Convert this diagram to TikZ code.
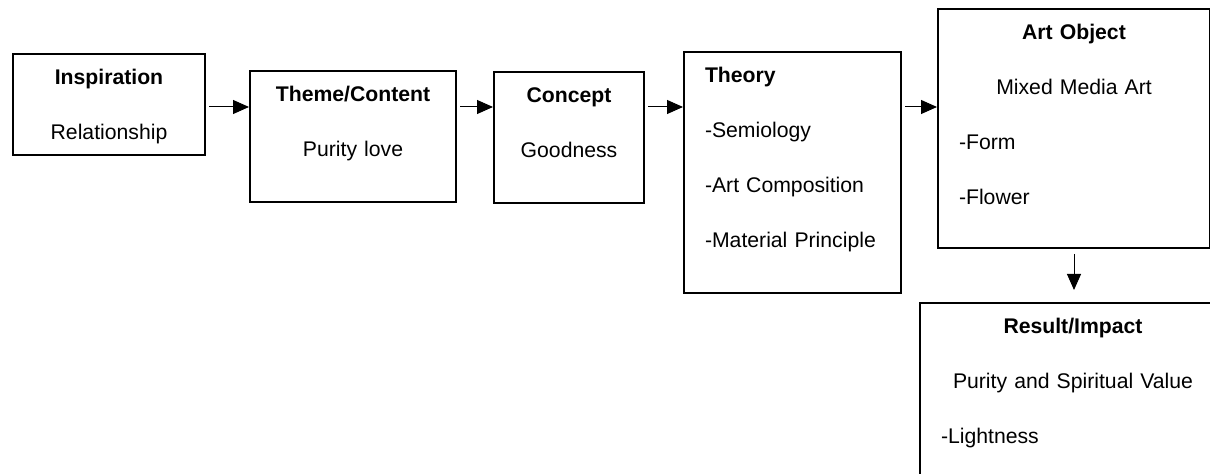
\documentclass[tikz,border=0pt]{standalone}
\usepackage{fontspec}
\setmainfont{Liberation Sans}
\usepackage{tikz}
\usetikzlibrary{positioning, calc, arrows.meta}
\tikzstyle{Arrow} = [
    line width = 0.5pt,
    -{Triangle[length=8pt, width=7pt]},
    shorten <= 1.5pt
]
\newcommand{\midline}[1]{\makebox[\hsize]{#1}}

\begin{document}
\begin{tikzpicture}[
x = 0.5pt, y = 0.5pt,
box/.style={
    draw,
    line width = 1pt,
    anchor = north west,
    inner xsep = 10.5pt,
    inner ysep = 0pt,
    text height = 15.25pt,
    font = \fontsize{10.6pt}{27.5pt}\selectfont
    }
]

\clip (0,0) rectangle (1210,-474);

\node [box, align=center, text width=75pt, text depth=35.25pt] (insp) at (12,-53) {
    \textbf{Inspiration}\\
    Relationship
};
\node [box, align=center, text width=82pt, text depth=50.25pt] (theme) at (249,-70) {
    \textbf{Theme/Content}\\
    Purity love
};
\node [box, align=center, text width=54pt, text depth=50.25pt] (concept) at (493,-71) {
    \textbf{Concept}\\
    Goodness
};
\node [box, align=left, text width=87.5pt, text depth=105.25pt] (theory) at (683,-51) {
    \textbf{Theory}\\
    -Semiology\\
    -Art Composition\\
    -Material Principle
};
\node [box, align=left, text width=115pt, text depth=104.25pt] (art) at (937,-8) {
    \midline{\textbf{Art Object}}\\
    \midline{Mixed Media Art}\\
    -Form\\
    -Flower
};
\node [box, align=left, text width=132pt, text depth=125pt] (result) at (919,-302) {
    \midline{\textbf{Result/Impact}}\\
    \midline{Purity and Spiritual Value}\\
    -Lightness
};

\coordinate (row) at (0,-107);

\draw[Arrow] (insp.east |- row) -- (theme.west |- row);
\draw[Arrow] (theme.east |- row) -- (concept.west |- row);
\draw[Arrow] (concept.east |- row) -- (theory.west |- row);
\draw[Arrow] (theory.east |- row) -- (art.west |- row);
\draw[Arrow, shorten <= 2.5pt, shorten >= 6pt] (art.south) -- (result.north -| art.south);

\end{tikzpicture}
\end{document}
